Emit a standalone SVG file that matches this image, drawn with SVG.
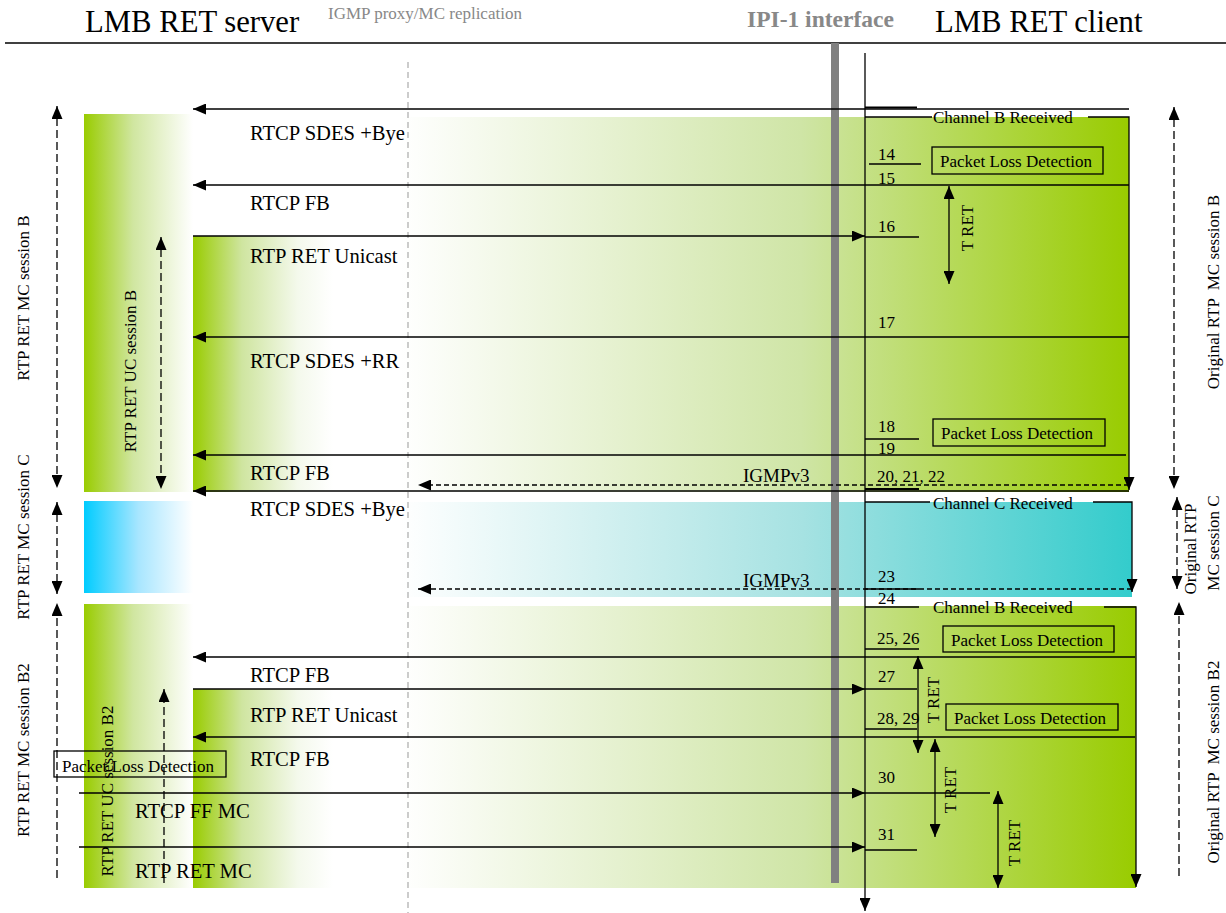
<svg xmlns="http://www.w3.org/2000/svg" width="1226" height="913" viewBox="0 0 1226 913">
<style>
text{font-family:"Liberation Serif","Times New Roman",serif;fill:#000}
.hdr{font-size:30.7px}
.gry{fill:#888}
.t20{font-size:20.6px}
.t19{font-size:19px}
.t17{font-size:17px}
.ln{stroke:#000;stroke-width:1.3;fill:none}
.ar{stroke:#000;stroke-width:1.3;fill:none;marker-end:url(#ah)}
.da{stroke:#000;stroke-width:1.3;fill:none;stroke-dasharray:5 3;marker-end:url(#ah)}
.vd{stroke:#000;stroke-width:1.3;fill:none;stroke-dasharray:8 4;marker-end:url(#ah)}
.vd2{stroke:#000;stroke-width:1.3;fill:none;stroke-dasharray:8 4;marker-end:url(#ah);marker-start:url(#ah)}
.v2{stroke:#000;stroke-width:1.3;fill:none;marker-end:url(#ah);marker-start:url(#ah)}
.box{fill:none;stroke:#000;stroke-width:1.3}
</style>
<defs>
<marker id="ah" viewBox="0 0 13 11" refX="13" refY="5.5" markerWidth="13" markerHeight="11" markerUnits="userSpaceOnUse" orient="auto-start-reverse"><path d="M0,0 L13,5.5 L0,11 z" fill="#000"/></marker>
<linearGradient id="gL" x1="0" y1="0" x2="1" y2="0"><stop offset="0" stop-color="#99cc00"/><stop offset="0.45" stop-color="#d0e6a0"/><stop offset="1" stop-color="#ffffff"/></linearGradient>
<linearGradient id="gI" x1="0" y1="0" x2="1" y2="0"><stop offset="0" stop-color="#99cc00"/><stop offset="0.35" stop-color="#cfe5a0"/><stop offset="0.75" stop-color="#f4f9ec"/><stop offset="1" stop-color="#ffffff"/></linearGradient>
<linearGradient id="gR" x1="0" y1="0" x2="1" y2="0"><stop offset="0" stop-color="#ffffff"/><stop offset="0.55" stop-color="#cfe5a6"/><stop offset="1" stop-color="#99cc00"/></linearGradient>
<linearGradient id="cL" x1="0" y1="0" x2="1" y2="0"><stop offset="0" stop-color="#00ccff"/><stop offset="0.5" stop-color="#a8e6ff"/><stop offset="1" stop-color="#ffffff"/></linearGradient>
<linearGradient id="cR" x1="0" y1="0" x2="1" y2="0"><stop offset="0" stop-color="#ffffff"/><stop offset="0.55" stop-color="#a6e2e2"/><stop offset="1" stop-color="#33cccc"/></linearGradient>
</defs>

<g id="backgrounds">
<rect x="84" y="114" width="109" height="378" fill="url(#gL)"/>
<rect x="193" y="236" width="140" height="256" fill="url(#gI)"/>
<rect x="400" y="117" width="729" height="375" fill="url(#gR)"/>
<rect x="84" y="501" width="109" height="92" fill="url(#cL)"/>
<rect x="400" y="502" width="732" height="95" fill="url(#cR)"/>
<rect x="84" y="604" width="109" height="284" fill="url(#gL)"/>
<rect x="193" y="689" width="140" height="199" fill="url(#gI)"/>
<rect x="400" y="606" width="736" height="282" fill="url(#gR)"/>
</g>

<g id="header">
<text class="hdr" x="85" y="32">LMB RET server</text>
<text class="gry" x="328" y="19" style="font-size:17px">IGMP proxy/MC replication</text>
<text class="gry" x="747" y="27" style="font-size:23.5px;font-weight:bold">IPI-1 interface</text>
<text class="hdr" x="935" y="32">LMB RET client</text>
<line x1="5" y1="43" x2="1226" y2="43" stroke="#000" stroke-width="1.5"/>
</g>

<g id="lifelines">
<line x1="408" y1="62" x2="408" y2="913" stroke="#999" stroke-width="1" stroke-dasharray="6 4"/>
<rect id="ipi1" x="831" y="43" width="8" height="840" fill="#808080"/>
<line x1="865" y1="53" x2="865" y2="911" class="ar"/>
</g>

<g id="connectors">
<!-- session B -->
<line x1="1129" y1="109" x2="193" y2="109" class="ar"/>
<line x1="865" y1="107.5" x2="917" y2="107.5" stroke="#000" stroke-width="1.8"/>
<polyline points="865,117 932,117" class="ln"/>
<polyline points="1088,117 1129,117 1129,490" class="ar"/>
<line x1="869" y1="164" x2="921" y2="164" class="ln"/>
<line x1="1129" y1="185" x2="193" y2="185" class="ar"/>
<line x1="949" y1="186" x2="949" y2="284" class="v2"/>
<line x1="193" y1="236" x2="865" y2="236" class="ar"/>
<line x1="865" y1="237" x2="919" y2="237" class="ln"/>
<line x1="1129" y1="337" x2="193" y2="337" class="ar"/>
<line x1="865" y1="439" x2="919" y2="439" class="ln"/>
<line x1="1126" y1="455" x2="193" y2="455" class="ar"/>
<line x1="1129" y1="485" x2="418" y2="485" class="da"/>
<line x1="865" y1="489" x2="919" y2="489" stroke="#000" stroke-width="1.8"/>
<line x1="1129" y1="491" x2="193" y2="491" class="ar"/>
<!-- session C -->
<polyline points="865,502 930,502" class="ln"/>
<polyline points="1093,502 1132,502 1132,592" class="ar"/>
<line x1="1132" y1="589" x2="418" y2="589" class="da"/>
<line x1="865" y1="589" x2="919" y2="589" class="ln"/>
<line x1="865" y1="607" x2="919" y2="607" class="ln"/>
<!-- session B2 -->
<polyline points="1104,607 1136,607 1136,887" class="ar"/>
<line x1="865" y1="649" x2="919" y2="649" class="ln"/>
<line x1="1135" y1="657" x2="193" y2="657" class="ar"/>
<line x1="918" y1="656" x2="918" y2="753" class="v2"/>
<line x1="193" y1="689" x2="865" y2="689" class="ar"/>
<line x1="865" y1="689" x2="917" y2="689" class="ln"/>
<line x1="865" y1="729" x2="917" y2="729" class="ln"/>
<line x1="1135" y1="737" x2="193" y2="737" class="ar"/>
<line x1="935" y1="739" x2="935" y2="837" class="v2"/>
<line x1="79" y1="793" x2="865" y2="793" class="ar"/>
<line x1="865" y1="793" x2="990" y2="793" class="ln"/>
<line x1="998" y1="791" x2="998" y2="888" class="v2"/>
<line x1="79" y1="847" x2="865" y2="847" class="ar"/>
<line x1="865" y1="850" x2="917" y2="850" class="ln"/>
<!-- session span arrows -->
<line x1="57" y1="106" x2="57" y2="488" class="vd2"/>
<line x1="57" y1="502" x2="57" y2="594" class="vd2"/>
<line x1="57" y1="878" x2="57" y2="603" class="vd"/>
<line x1="161" y1="237" x2="161" y2="489" class="vd2"/>
<line x1="164" y1="883" x2="164" y2="689" class="vd"/>
<line x1="1174" y1="107" x2="1174" y2="489" class="vd2"/>
<line x1="1177" y1="497" x2="1177" y2="589" class="vd2"/>
<line x1="1179" y1="876" x2="1179" y2="602" class="vd"/>
</g>

<g id="pld-boxes">
<rect class="box" x="932" y="147" width="171" height="27"/>
<rect class="box" x="933" y="419" width="172" height="27"/>
<rect class="box" x="943" y="626" width="171" height="26"/>
<rect class="box" x="946" y="704" width="172" height="26"/>
<rect class="box" x="54" y="751" width="172" height="26"/>
</g>

<g id="labels">
<text class="t20" x="250" y="140">RTCP SDES +Bye</text>
<text class="t20" x="250" y="210">RTCP FB</text>
<text class="t20" x="250" y="263">RTP RET Unicast</text>
<text class="t20" x="250" y="368">RTCP SDES +RR</text>
<text class="t20" x="250" y="480">RTCP FB</text>
<text class="t20" x="250" y="516">RTCP SDES +Bye</text>
<text class="t20" x="250" y="682">RTCP FB</text>
<text class="t20" x="250" y="722">RTP RET Unicast</text>
<text class="t20" x="250" y="766">RTCP FB</text>
<text class="t20" x="135" y="818">RTCP FF MC</text>
<text class="t20" x="135" y="878">RTP RET MC</text>
<text class="t19" x="743" y="482">IGMPv3</text>
<text class="t19" x="743" y="587">IGMPv3</text>

<text class="t17" x="933" y="123">Channel B Received</text>
<text class="t17" x="933" y="509">Channel C Received</text>
<text class="t17" x="933" y="613">Channel B Received</text>

<text class="t17" x="940" y="167">Packet Loss Detection</text>
<text class="t17" x="941" y="439">Packet Loss Detection</text>
<text class="t17" x="951" y="646">Packet Loss Detection</text>
<text class="t17" x="954" y="724">Packet Loss Detection</text>
<text class="t17" x="62" y="772">Packet Loss Detection</text>

<text class="t17" x="878" y="160">14</text>
<text class="t17" x="878" y="184">15</text>
<text class="t17" x="878" y="232">16</text>
<text class="t17" x="878" y="328">17</text>
<text class="t17" x="878" y="432">18</text>
<text class="t17" x="878" y="454">19</text>
<text class="t17" x="877" y="482">20, 21, 22</text>
<text class="t17" x="878" y="582">23</text>
<text class="t17" x="878" y="604">24</text>
<text class="t17" x="877" y="644">25, 26</text>
<text class="t17" x="878" y="682">27</text>
<text class="t17" x="877" y="724">28, 29</text>
<text class="t17" x="878" y="783">30</text>
<text class="t17" x="878" y="840">31</text>

<text class="t17" text-anchor="middle" transform="translate(973,228) rotate(-90)">T RET</text>
<text class="t17" text-anchor="middle" transform="translate(939,700) rotate(-90)">T RET</text>
<text class="t17" text-anchor="middle" transform="translate(956,790) rotate(-90)">T RET</text>
<text class="t17" text-anchor="middle" transform="translate(1020,843) rotate(-90)">T RET</text>

<text class="t17" text-anchor="middle" transform="translate(29,298) rotate(-90)">RTP RET MC session B</text>
<text class="t17" text-anchor="middle" transform="translate(29,537) rotate(-90)">RTP RET MC session C</text>
<text class="t17" text-anchor="middle" transform="translate(29,750) rotate(-90)">RTP RET MC session B2</text>
<text class="t17" text-anchor="middle" transform="translate(136,371) rotate(-90)">RTP RET UC session B</text>
<text class="t17" text-anchor="middle" transform="translate(113,791) rotate(-90)">RTP RET UC session B2</text>
<text class="t17" text-anchor="middle" xml:space="preserve" transform="translate(1219,292) rotate(-90)">Original RTP  MC session B</text>
<text class="t17" text-anchor="middle" transform="translate(1196,549) rotate(-90)">Original RTP</text>
<text class="t17" text-anchor="middle" transform="translate(1219,543) rotate(-90)">MC session C</text>
<text class="t17" text-anchor="middle" xml:space="preserve" transform="translate(1219,762) rotate(-90)">Original RTP  MC session B2</text>
</g>
</svg>
